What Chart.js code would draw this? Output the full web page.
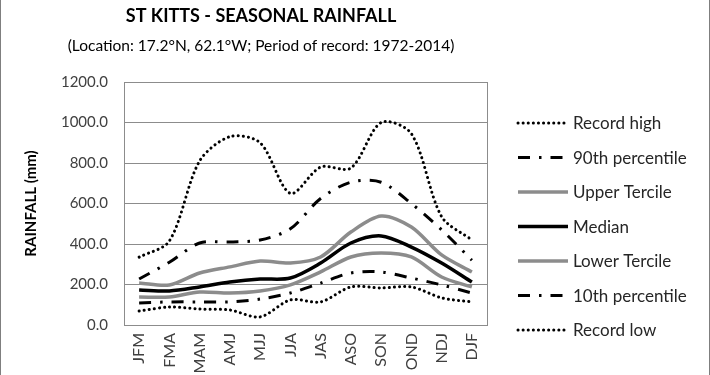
<!DOCTYPE html>
<html>
<head>
<meta charset="utf-8">
<script src="https://cdn.jsdelivr.net/npm/chart.js@4.4.0/dist/chart.umd.min.js"></script>
<style>
  html, body { margin: 0; padding: 0; background: #fff; }
  #wrap { width: 710px; height: 375px; position: relative; }
</style>
</head>
<body>
<div id="wrap"><canvas id="rain"></canvas></div>
<script>
// ===================================
// St Kitts seasonal rainfall (mm)
// ===================================
const seasons = ['JFM', 'FMA', 'MAM', 'AMJ', 'MJJ', 'JJA', 'JAS', 'ASO', 'SON', 'OND', 'NDJ', 'DJF'];
const yTicks = [0, 200, 400, 600, 800, 1000, 1200];

const recordHigh   = [335, 415, 810, 930, 900, 650, 780, 775, 1000, 945, 535, 420];
const pct90        = [227, 310, 405, 410, 420, 475, 625, 705, 705, 600, 470, 320];
const upperTercile = [208, 198, 257, 287, 316, 306, 336, 459, 538, 484, 346, 262];
const median       = [173, 168, 188, 212, 227, 232, 306, 405, 440, 385, 306, 212];
const lowerTercile = [138, 138, 163, 158, 168, 198, 262, 336, 356, 336, 237, 188];
const pct10        = [109, 114, 114, 114, 128, 158, 207, 257, 262, 232, 198, 158];
const recordLow    = [69, 89, 79, 74, 40, 124, 114, 188, 183, 188, 134, 114];

const titleText = 'ST KITTS - SEASONAL RAINFALL';
const subtitleText = '(Location: 17.2°N, 62.1°W; Period of record: 1972-2014)';

const FONT = 'Lato, "Open Sans", sans-serif';
const TEXT = '#404040';
const GRID = '#8c8c8c';

const dotted = { borderColor: '#000', borderWidth: 3, borderDash: [0.1, 5], borderCapStyle: 'round' };
const dashDot = { borderColor: '#000', borderWidth: 3, borderDash: [12, 9, 2.5, 9], borderCapStyle: 'butt' };

// Title block, centred over plot + legend like the original
const heading = {
    id: 'heading',
    afterDraw(chart) {
        const ctx = chart.ctx;
        ctx.save();
        ctx.fillStyle = '#000';
        ctx.textAlign = 'center';
        ctx.textBaseline = 'alphabetic';
        ctx.font = 'bold 18px ' + FONT;
        ctx.fillText(titleText, 261, 22);
        ctx.font = '15.5px ' + FONT;
        ctx.fillText(subtitleText, 261, 51);
        ctx.restore();
    }
};

// Legend drawn at the right, beside the plot
const sideLegend = {
    id: 'sideLegend',
    afterDraw(chart) {
        const ctx = chart.ctx;
        chart.data.datasets.forEach((ds, i) => {
            const y = 123 + i * 34.5;
            ctx.save();
            ctx.strokeStyle = ds.borderColor;
            ctx.lineWidth = ds.borderWidth;
            ctx.lineCap = ds.borderCapStyle || 'butt';
            ctx.setLineDash(ds.borderDash || []);
            ctx.beginPath();
            ctx.moveTo(518, y);
            ctx.lineTo(568, y);
            ctx.stroke();
            ctx.setLineDash([]);
            ctx.fillStyle = '#262626';
            ctx.font = '17px ' + FONT;
            ctx.textBaseline = 'middle';
            ctx.fillText(ds.label, 573, y + 1);
            ctx.restore();
        });
    }
};

// Plot area box and outer chart frame
const frame = {
    id: 'frame',
    beforeDatasetsDraw(chart) {
        const { ctx, chartArea: a } = chart;
        ctx.save();
        ctx.strokeStyle = GRID;
        ctx.lineWidth = 1;
        ctx.strokeRect(Math.round(a.left) + 0.5, Math.round(a.top) + 0.5,
            Math.round(a.right - a.left), Math.round(a.bottom - a.top));
        ctx.restore();
    },
    afterDraw(chart) {
        const ctx = chart.ctx;
        ctx.save();
        ctx.strokeStyle = '#7f7f7f';
        ctx.lineWidth = 1;
        ctx.beginPath();
        ctx.moveTo(0.5, 0); ctx.lineTo(0.5, chart.height);
        ctx.moveTo(chart.width - 0.5, 0); ctx.lineTo(chart.width - 0.5, chart.height);
        ctx.stroke();
        ctx.restore();
    }
};

const PAD_LEFT = 8;

new Chart(document.getElementById('rain'), {
    type: 'line',
    data: {
        labels: seasons,
        datasets: [
            { label: 'Record high', data: recordHigh, ...dotted },
            { label: '90th percentile', data: pct90, ...dashDot },
            { label: 'Upper Tercile', data: upperTercile, borderColor: '#8c8c8c', borderWidth: 3.5 },
            { label: 'Median', data: median, borderColor: '#000', borderWidth: 3.5 },
            { label: 'Lower Tercile', data: lowerTercile, borderColor: '#8c8c8c', borderWidth: 3.5 },
            { label: '10th percentile', data: pct10, ...dashDot },
            { label: 'Record low', data: recordLow, ...dotted }
        ]
    },
    options: {
        responsive: true,
        maintainAspectRatio: false,
        animation: false,
        layout: { padding: { left: PAD_LEFT, right: 223, top: 82, bottom: 0 } },
        elements: {
            point: { radius: 0, hoverRadius: 0 },
            line: { tension: 0.3, fill: false }
        },
        plugins: {
            legend: { display: false },
            tooltip: { enabled: false },
            title: { display: false },
            subtitle: { display: false }
        },
        scales: {
            x: {
                offset: true,
                grid: { display: false, drawTicks: false },
                border: { display: false },
                ticks: {
                    color: TEXT,
                    font: { family: FONT, size: 16 },
                    minRotation: 90,
                    maxRotation: 90,
                    autoSkip: false,
                    padding: 8
                },
                afterFit: s => { s.height = 50; }
            },
            y: {
                min: 0,
                max: 1200,
                afterBuildTicks: s => { s.ticks = yTicks.map(v => ({ value: v })); },
                grid: { color: GRID, drawTicks: false },
                border: { display: false },
                ticks: {
                    color: TEXT,
                    font: { family: FONT, size: 15 },
                    padding: 16,
                    callback: v => Number(v).toFixed(1)
                },
                title: {
                    display: true,
                    text: 'RAINFALL (mm)',
                    color: '#000',
                    font: { family: FONT, size: 15, weight: 'bold' },
                    padding: { top: 14, bottom: 0 }
                },
                afterFit: s => { s.width = 124 - PAD_LEFT; }
            }
        }
    },
    plugins: [frame, sideLegend, heading]
});
</script>
</body>
</html>
